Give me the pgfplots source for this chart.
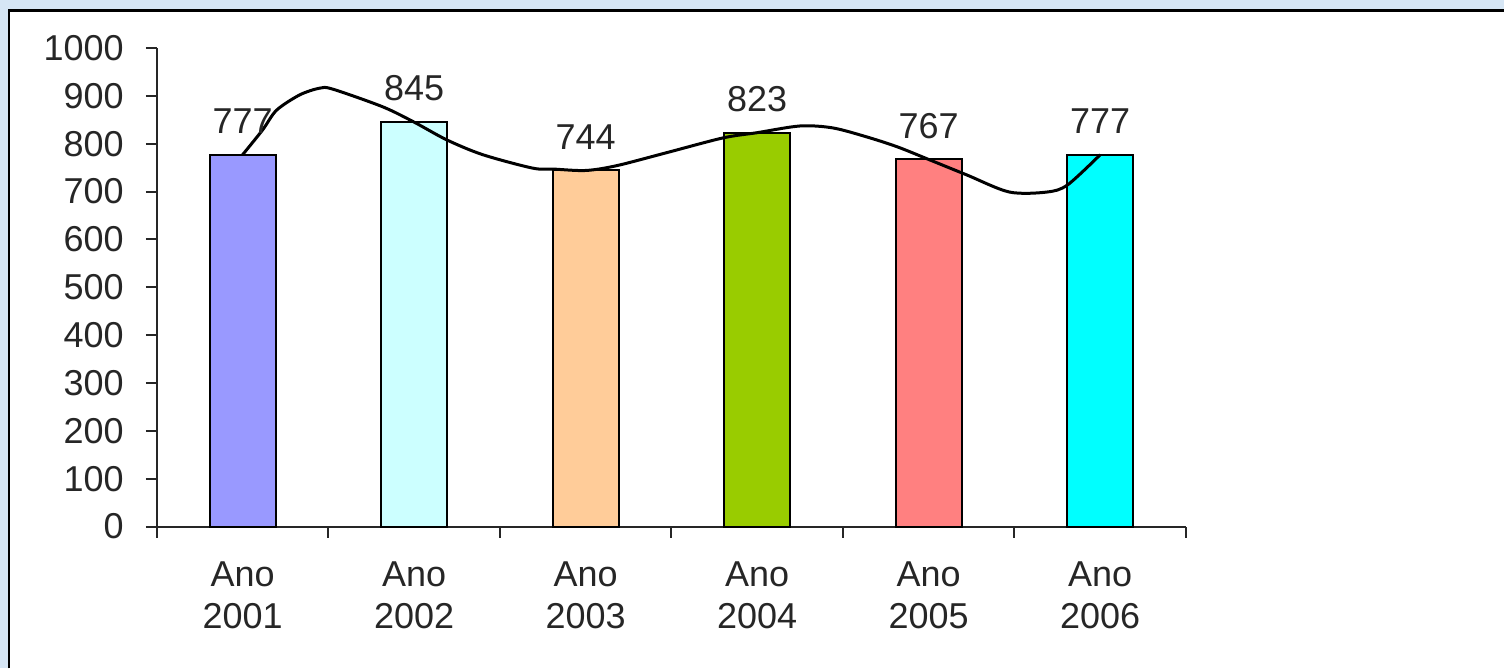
\documentclass[border=0pt]{standalone}
\usepackage{pgfplots}
\pgfplotsset{compat=1.18}
\usepackage{fontspec}
\setmainfont{Liberation Sans}
\definecolor{bgblue}{RGB}{214,230,245}
\definecolor{cA}{RGB}{153,153,255}
\definecolor{cB}{RGB}{204,255,255}
\definecolor{cC}{RGB}{255,204,153}
\definecolor{cD}{RGB}{153,204,0}
\definecolor{cE}{RGB}{255,128,128}
\definecolor{cF}{RGB}{0,255,255}
\begin{document}
\begin{tikzpicture}[x=1pt,y=1pt]
\fill[bgblue] (0,0) rectangle (1505,669);
\fill[white] (9,0) rectangle (1505,658.5);
\draw[line width=2.5pt, black] (9,0) -- (9,658.5) -- (1505,658.5);
\begin{axis}[
  at={(157pt,142pt)}, anchor=south west,
  scale only axis, width=1030pt, height=479pt,
  xmin=-0.5, xmax=5.5, ymin=0, ymax=1000,
  axis x line=bottom, axis y line=left,
  axis line style={-, line width=2pt, black!85},
  tick align=outside, major tick length=11pt,
  tick style={line width=2pt, black!85},
  xtick={-0.5,0.5,1.5,2.5,3.5,4.5,5.5},
  x tick label as interval,
  xticklabels={{Ano\\2001},{Ano\\2002},{Ano\\2003},{Ano\\2004},{Ano\\2005},{Ano\\2006}},
  ytick={0,100,...,1000},
  /pgf/number format/assume math mode=true,
  /pgf/number format/1000 sep={},
  tick label style={font=\fontsize{36}{42}\selectfont, text=black!85},
  xticklabel style={align=center, inner sep=0pt, yshift=-24pt},
  yticklabel style={inner sep=0pt, xshift=-22pt},
  every node near coord/.append style={font=\fontsize{36}{42}\selectfont, text=black!85, inner sep=0pt, yshift=20pt},
  clip=false,
]
\addplot[ybar, bar width=66pt, bar shift=0pt, fill=cA, draw=black, line width=2pt, nodes near coords] coordinates {(0,777)};
\addplot[ybar, bar width=66pt, bar shift=0pt, fill=cB, draw=black, line width=2pt, nodes near coords] coordinates {(1,845)};
\addplot[ybar, bar width=66pt, bar shift=0pt, fill=cC, draw=black, line width=2pt, nodes near coords] coordinates {(2,744)};
\addplot[ybar, bar width=66pt, bar shift=0pt, fill=cD, draw=black, line width=2pt, nodes near coords] coordinates {(3,823)};
\addplot[ybar, bar width=66pt, bar shift=0pt, fill=cE, draw=black, line width=2pt, nodes near coords] coordinates {(4,767)};
\addplot[ybar, bar width=66pt, bar shift=0pt, fill=cF, draw=black, line width=2pt, nodes near coords] coordinates {(5,777)};
\addplot[smooth, black, line width=3pt, no markers] coordinates {
(0,777) (0.117,829) (0.198,870) (0.333,902) (0.449,916) (0.525,914)
(0.817,877) (1,845) (1.19,808) (1.40,777) (1.69,749) (1.81,747)
(2,744) (2.18,754) (2.47,781) (2.80,812) (3,823) (3.25,837)
(3.44,833) (3.64,814) (3.82,793) (4,767) (4.22,735) (4.47,699)
(4.69,699) (4.81,714) (5,777)};
\end{axis}
\end{tikzpicture}
\end{document}
